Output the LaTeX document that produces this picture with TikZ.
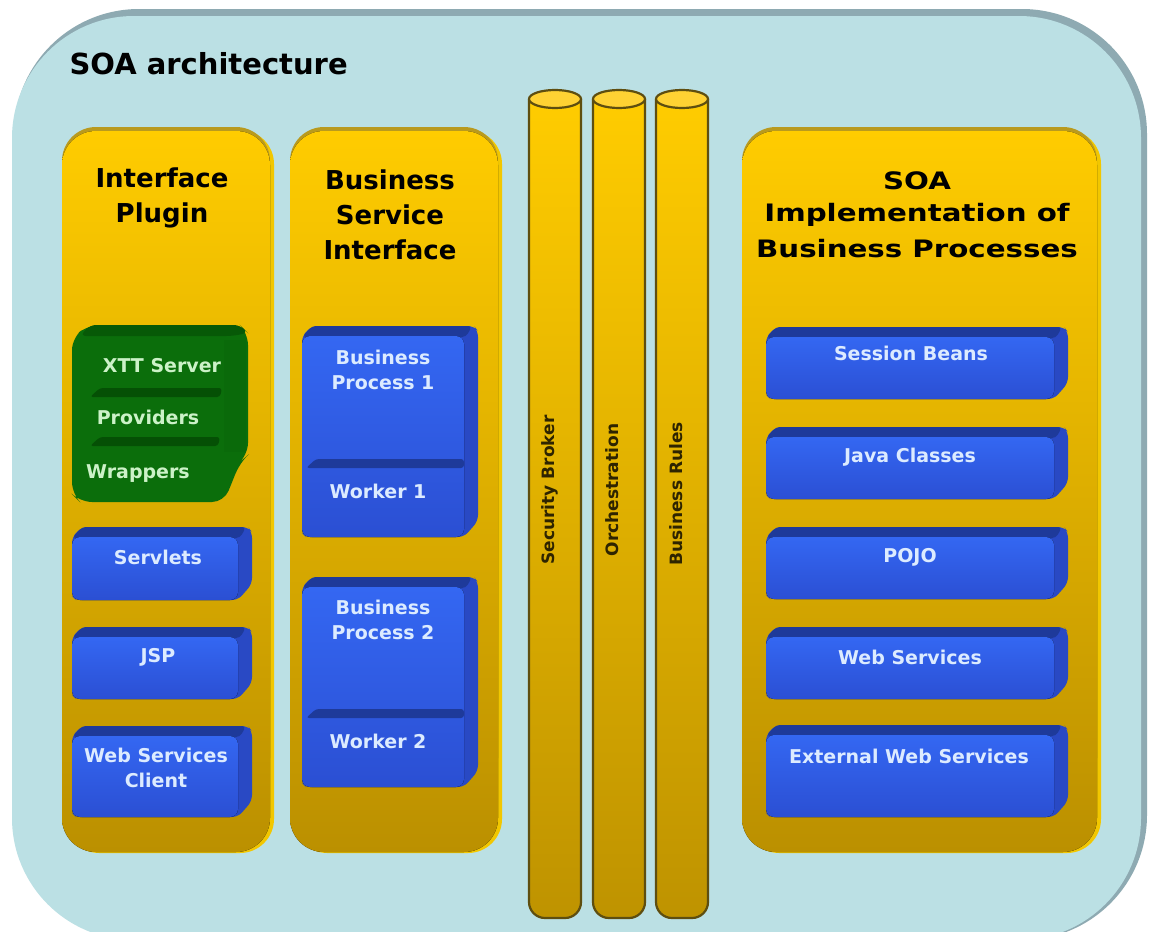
\documentclass[tikz,border=0pt]{standalone}
\usepackage{fontspec}
\setmainfont{DejaVu Sans}
\definecolor{outerfill}{HTML}{BBE0E4}
\definecolor{outerdark}{HTML}{8EAAB2}
\definecolor{yel}{HTML}{FFCC00}
\definecolor{ydark}{HTML}{BB9000}
\definecolor{yrim}{HTML}{F2C700}
\definecolor{ytop}{HTML}{B99A1E}
\definecolor{cylline}{HTML}{5E4E10}
\definecolor{cyltop}{HTML}{FFD233}
\definecolor{bside}{HTML}{2949C4}
\definecolor{btop}{HTML}{1E3A9A}
\definecolor{bfronttop}{HTML}{3467F2}
\definecolor{bfrontbot}{HTML}{2B4FD3}
\definecolor{btext}{HTML}{DCEBFF}
\definecolor{gmain}{HTML}{0B6E0B}
\definecolor{gdark}{HTML}{055005}
\definecolor{gtext}{HTML}{CCF2C8}
\definecolor{cyltext}{HTML}{2E2400}
\newcommand{\ycolumn}[4]{%
  \fill[yrim, rounded corners=34] (#1+3,#2) rectangle (#3+4,#4+1);
  \fill[ytop, rounded corners=34] (#1,#2-3) rectangle (#3,#4-60);
  \fill[rounded corners=34, top color=yel, middle color=yel, bottom color=ydark] (#1,#2+1) rectangle (#3,#4);}
\newcommand{\bluebox}[4]{%
  \begin{scope}[shift={(#1,#2)}]
  \fill[bside, rounded corners=6] (10,0) -- (#3-4,0) -- (#3,5) -- (#3,#4-16) -- (#3-14,#4) -- (4,#4) -- (0,#4-4) -- (0,10) -- cycle;
  \fill[btop, rounded corners=4] (10,0) -- (#3-6,0) -- (#3-12,11) -- (0,11) -- cycle;
  \fill[rounded corners=8, top color=bfronttop, bottom color=bfrontbot] (0,10) rectangle (#3-14,#4);
  \end{scope}}
\newcommand{\cylinder}[2]{%
  \filldraw[draw=cylline, line width=2.2pt, rounded corners=16, top color=yel, middle color=yel!97!black, bottom color=ydark!95!yel]
    (#1,99) -- (#1,918) -- (#2,918) -- (#2,99);
  \filldraw[draw=cylline, line width=2.2pt, fill=cyltop] ({(#1+#2)/2},99) ellipse [x radius={(#2-#1)/2}, y radius=9];}
\begin{document}
\begin{tikzpicture}[x=1pt,y=-1pt,
  boxtext/.style={text=btext, font=\bfseries\fontsize{19}{25}\selectfont, align=center},
  greentext/.style={text=gtext, font=\bfseries\fontsize{19}{25}\selectfont},
  headtext/.style={text=black, font=\bfseries\fontsize{26}{35}\selectfont, align=center},
  cyltxt/.style={text=cyltext, font=\bfseries\fontsize{17}{20}\selectfont, rotate=90}]
\useasboundingbox (0,0) rectangle (1149,932);
\clip (0,0) rectangle (1149,932);
\fill[white] (0,0) rectangle (1149,932);
% outer frame
\fill[outerdark, rounded corners=125] (14,9) rectangle (1147,940);
\fill[outerfill, rounded corners=122] (12,16) rectangle (1141,940);
\node[anchor=west, font=\bfseries\fontsize{29}{34}\selectfont] (title) at (66,64) {SOA architecture};
% columns
\ycolumn{62}{130}{270}{852}
\ycolumn{290}{130}{498}{852}
\ycolumn{742}{130}{1097}{852}
% cylinders
\cylinder{529}{581}
\cylinder{593}{645}
\cylinder{656}{708}
\node[cyltxt] (sec) at (550,490) {Security Broker};
\node[cyltxt] (orch) at (612,490) {Orchestration};
\node[cyltxt] (rules) at (676,494) {Business Rules};
% headings
\node[headtext] (h1) at (162,198) {Interface\\Plugin};
\node[headtext] (h2) at (390,215) {Business\\Service\\Interface};
\node[font=\bfseries\fontsize{24}{30}\selectfont] (h4a) at (917,181) {\scalebox{1.22}[1]{SOA}};
\node[font=\bfseries\fontsize{24}{30}\selectfont] (h4b) at (917,215) {\scalebox{1.22}[1]{Implementation of}};
\node[font=\bfseries\fontsize{24}{30}\selectfont] (h4c) at (917,249) {\scalebox{1.22}[1]{Business Processes}};
% green block
\fill[gmain, rounded corners=12] (88,325) -- (240,325) -- (248,333) -- (248,455) -- (240,462) -- (237,470) -- (224,502) -- (80,502) -- (72,494) -- (72,338) -- cycle;
\fill[gdark!70!gmain, rounded corners=6] (90,325) -- (240,325) -- (248,333) -- (232,336) -- (80,336) -- cycle;
\fill[gdark, rounded corners=3] (100,388) -- (222,388) -- (220,397) -- (90,397) -- cycle;
\fill[gdark, rounded corners=3] (100,437) -- (220,437) -- (218,446) -- (90,446) -- cycle;
\fill[gdark!15!gmain] (224,340) -- (246,340) -- (246,452) -- (224,452) -- cycle;
\node[greentext] (xtt) at (162,366) {XTT Server};
\node[greentext] (prov) at (148,417) {Providers};
\node[greentext] (wrap) at (138,474) {Wrappers};
% column 1 boxes
\bluebox{72}{527}{180}{73}
\bluebox{72}{627}{180}{72}
\bluebox{72}{726}{180}{91}
\node[boxtext] (servlets) at (158,557) {Servlets};
\node[boxtext] (jsp) at (158,657) {JSP};
\node[boxtext] (wsc) at (156,768) {Web Services\\Client};
% column 2 boxes
\bluebox{302}{326}{176}{211}
\fill[btop, rounded corners=3] (316,459) -- (464,459) -- (464,468) -- (306,468) -- cycle;
\bluebox{302}{577}{176}{210}
\fill[btop, rounded corners=3] (316,709) -- (464,709) -- (464,718) -- (306,718) -- cycle;
\node[boxtext] (bp1) at (383,370) {Business\\Process 1};
\node[boxtext] (w1) at (378,491) {Worker 1};
\node[boxtext] (bp2) at (383,620) {Business\\Process 2};
\node[boxtext] (w2) at (378,741) {Worker 2};
% column 4 boxes
\bluebox{766}{327}{302}{72}
\bluebox{766}{427}{302}{72}
\bluebox{766}{527}{302}{72}
\bluebox{766}{627}{302}{72}
\bluebox{766}{725}{302}{92}
\node[boxtext] (sb) at (911,353) {Session Beans};
\node[boxtext] (jc) at (910,457) {Java Classes};
\node[boxtext] (pojo) at (910,557) {POJO};
\node[boxtext] (ws) at (910,657) {Web Services};
\node[boxtext] (ews) at (909,756) {External Web Services};
\end{tikzpicture}
\end{document}
